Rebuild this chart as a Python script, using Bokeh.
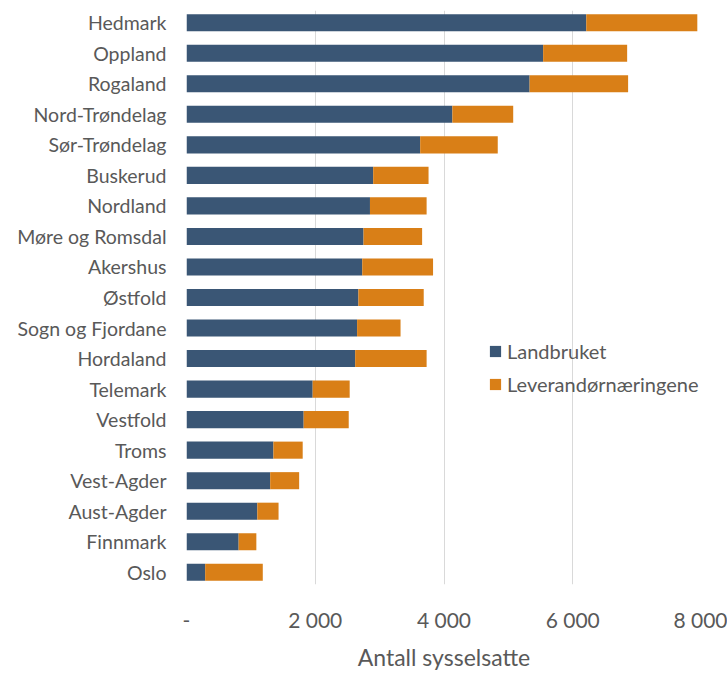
from bokeh.plotting import figure
from bokeh.models import FactorRange, FixedTicker, Legend, LegendItem, ColumnDataSource
from bokeh.embed import file_html
from bokeh.resources import INLINE

fylker = ["Hedmark", "Oppland", "Rogaland", "Nord-Trøndelag", "Sør-Trøndelag", "Buskerud",
          "Nordland", "Møre og Romsdal", "Akershus", "Østfold", "Sogn og Fjordane", "Hordaland",
          "Telemark", "Vestfold", "Troms", "Vest-Agder", "Aust-Agder", "Finnmark", "Oslo"]
landbruket = [6210, 5540, 5330, 4130, 3630, 2900, 2850, 2750, 2730, 2670, 2650, 2620,
              1960, 1820, 1350, 1300, 1100, 810, 290]
leverandor = [1725, 1305, 1530, 945, 1205, 860, 880, 910, 1100, 1015, 675, 1110,
              575, 700, 455, 450, 330, 275, 895]
tick_vals = [0, 2000, 4000, 6000, 8000]
tick_labels = ["-", "2 000", "4 000", "6 000", "8 000"]
series = ["Landbruket", "Leverandørnæringene"]
colors = ["#3A5675", "#D97F17"]

FONT = "Lato"
GREY = "#595959"

src = ColumnDataSource(dict(fylke=fylker, Landbruket=landbruket, Leverandørnæringene=leverandor))

p = figure(width=727, height=673, output_backend="svg", toolbar_location=None,
           y_range=FactorRange(factors=list(reversed(fylker)), range_padding=-0.0105),
           x_range=(0, 8000), min_border_left=186, min_border_right=26,
           min_border_top=10, min_border_bottom=88)

r = p.hbar_stack(series, y="fylke", height=0.56, color=colors, source=src, line_color=None)

p.xaxis.ticker = FixedTicker(ticks=tick_vals)
p.xaxis.major_label_overrides = {v: l for v, l in zip(tick_vals, tick_labels)}
p.xaxis.axis_label = "Antall sysselsatte"
for ax in (p.xaxis, p.yaxis):
    ax.axis_line_color = None
    ax.major_tick_line_color = None
    ax.minor_tick_line_color = None
    ax.major_tick_out = 0
    ax.major_tick_in = 0
    ax.minor_tick_out = 0
    ax.minor_tick_in = 0
    ax.major_label_text_font = FONT
    ax.major_label_text_color = GREY
p.xaxis.major_label_text_font_size = "21px"
p.xaxis.major_label_standoff = 22
p.xaxis.axis_label_text_font = FONT
p.xaxis.axis_label_text_font_size = "23px"
p.xaxis.axis_label_text_font_style = "normal"
p.xaxis.axis_label_text_color = GREY
p.xaxis.axis_label_standoff = 8
p.yaxis.major_label_text_font_size = "19.5px"
p.yaxis.major_label_standoff = 20

p.xgrid.grid_line_color = "#D9D9D9"
p.xgrid.grid_line_width = 1
p.ygrid.grid_line_color = None
p.outline_line_color = None

legend = Legend(items=[LegendItem(label=s, renderers=[rr]) for s, rr in zip(series, r)],
                location=(302, 188), orientation="vertical", margin=0, padding=0,
                border_line_color=None, background_fill_alpha=0,
                glyph_width=14, glyph_height=14, label_height=20, spacing=9,
                label_standoff=5, label_text_font=FONT, label_text_font_size="20px",
                label_text_color=GREY)
p.add_layout(legend, "center")

open("out.html", "w").write(file_html(p, INLINE))
